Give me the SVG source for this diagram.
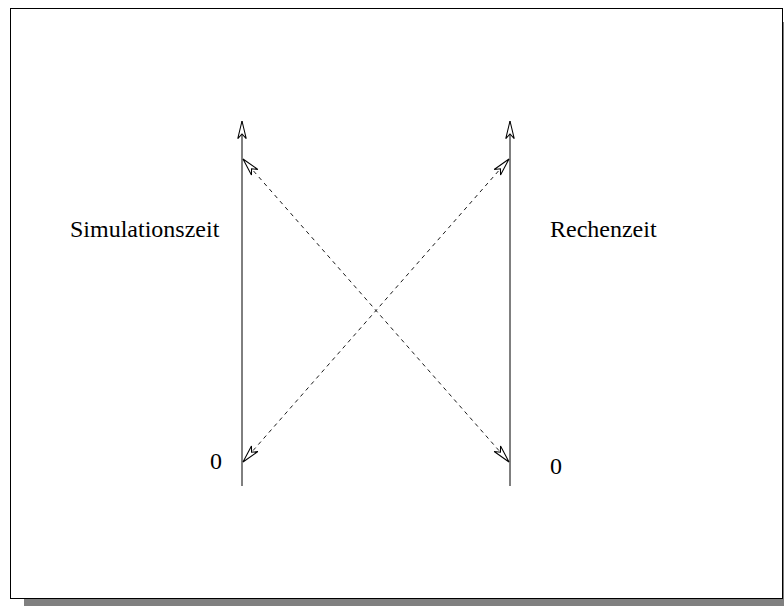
<svg xmlns="http://www.w3.org/2000/svg" width="784" height="606" viewBox="0 0 784 606">
<style>
.lbl{font-family:"Liberation Serif","Times New Roman",serif;font-size:24px;fill:#000}
.axis{stroke:#000;stroke-width:1;fill:none}
.dash{stroke:#000;stroke-width:0.9;fill:none;stroke-dasharray:4,4}
</style>
<defs>
<marker id="ah" markerUnits="userSpaceOnUse" markerWidth="20" markerHeight="12" viewBox="-16 -5 17 10" refX="0" refY="0" orient="auto-start-reverse">
<path d="M0,0 L-15,-3.6 L-11,0 L-15,3.6 Z" fill="#fff" stroke="#000" stroke-width="0.9" stroke-linejoin="miter"/>
</marker>
</defs>
<rect x="0" y="0" width="784" height="606" fill="#fff"/>
<rect x="24" y="22" width="760" height="584" fill="#808080"/>
<rect x="10.5" y="8.5" width="772" height="590" fill="#fff" stroke="#000" stroke-width="1"/>
<g id="connectors">
<line class="axis" x1="242" y1="486" x2="242" y2="121" marker-end="url(#ah)"/>
<line class="axis" x1="510" y1="486" x2="510" y2="121" marker-end="url(#ah)"/>
<line class="dash" x1="243" y1="159" x2="509" y2="462" marker-start="url(#ah)" marker-end="url(#ah)"/>
<line class="dash" x1="509" y1="159" x2="243" y2="462" marker-start="url(#ah)" marker-end="url(#ah)"/>
</g>
<g id="label-sim"><text class="lbl" x="70" y="237">Simulationszeit</text></g>
<g id="label-rechen"><text class="lbl" x="550" y="237">Rechenzeit</text></g>
<g id="zero-left"><text class="lbl" x="210" y="469">0</text></g>
<g id="zero-right"><text class="lbl" x="550" y="474">0</text></g>
</svg>
